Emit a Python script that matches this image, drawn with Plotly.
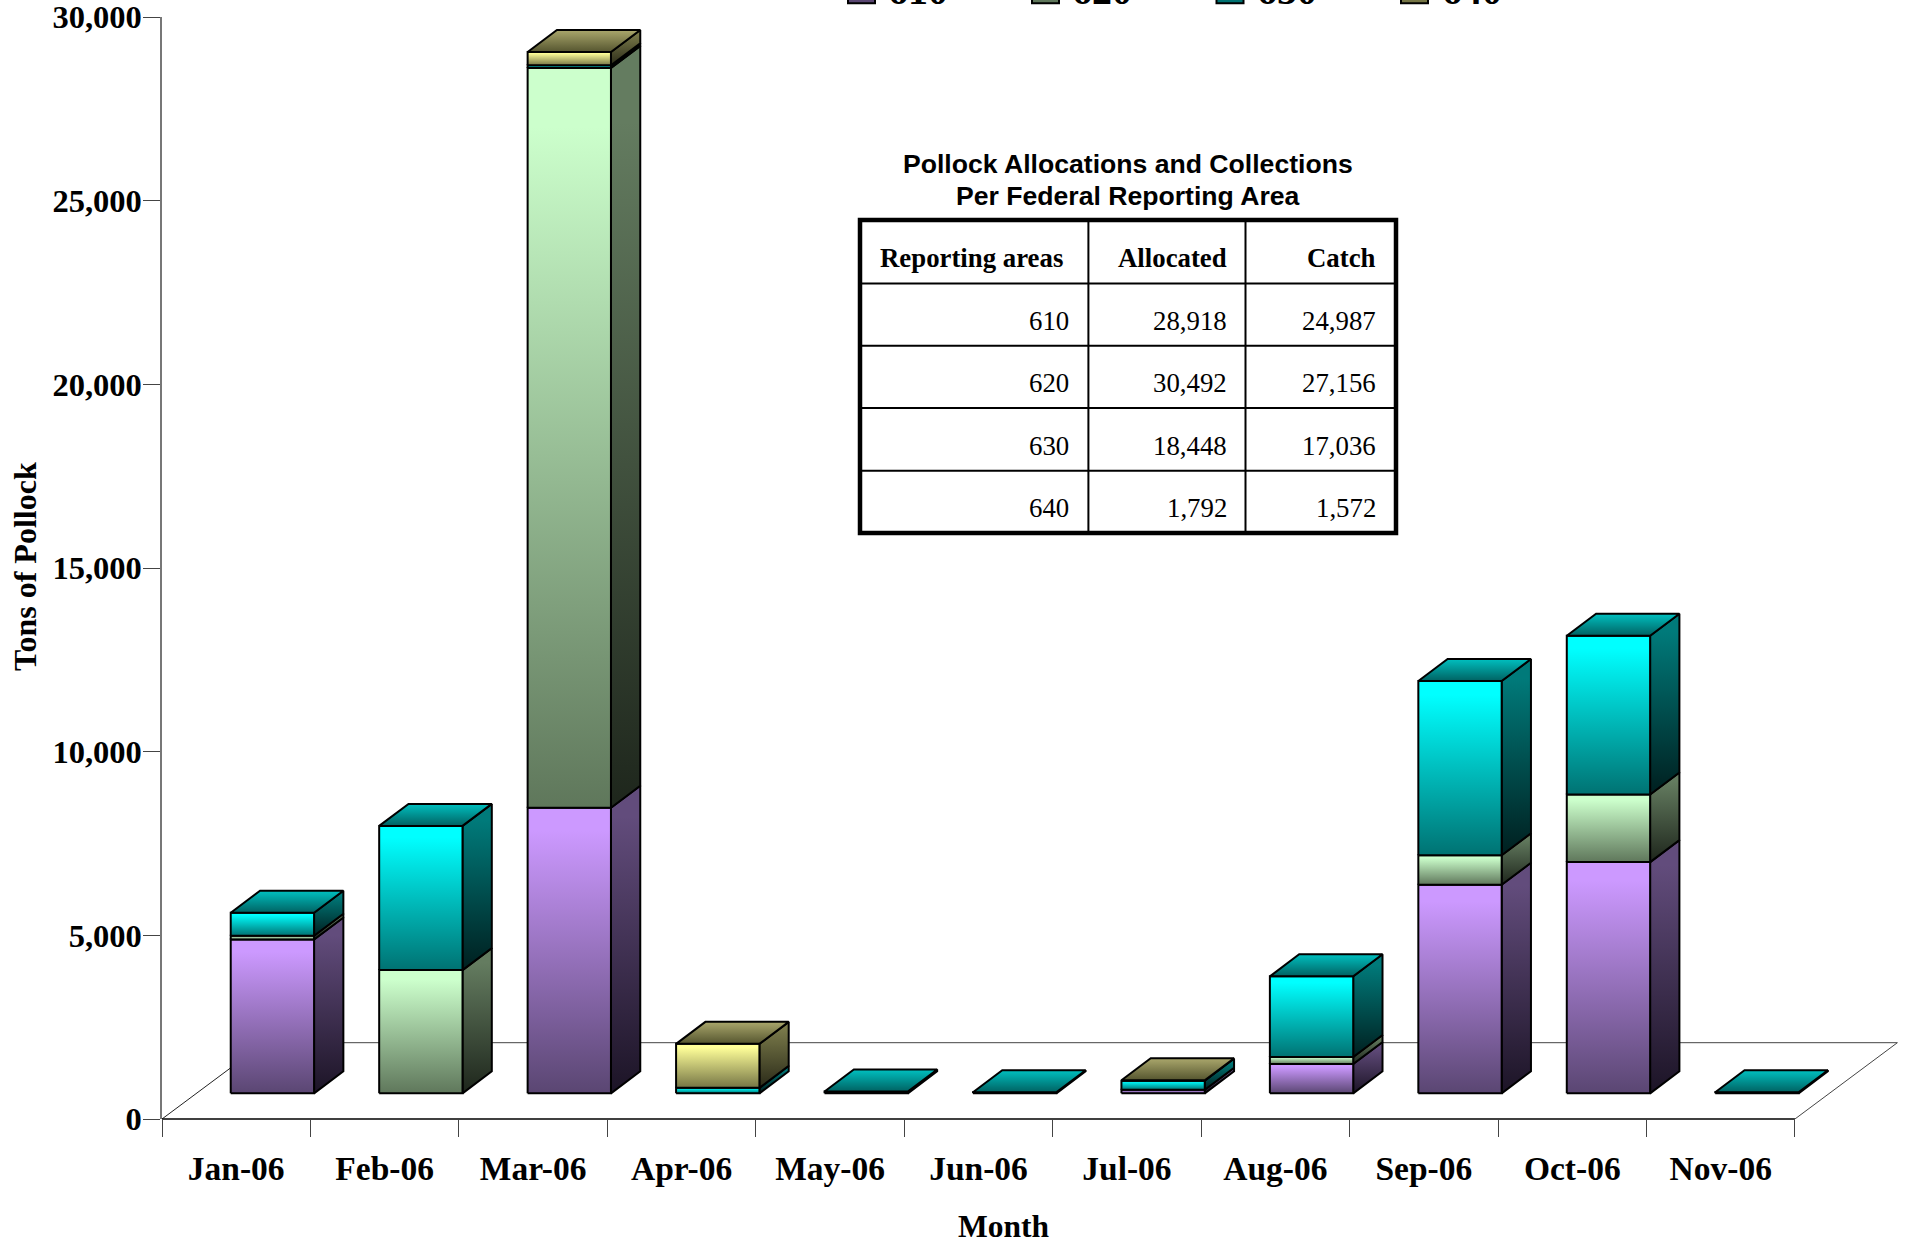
import plotly.graph_objects as go

months = ["Jan-06","Feb-06","Mar-06","Apr-06","May-06","Jun-06","Jul-06","Aug-06","Sep-06","Oct-06","Nov-06"]
area_610 = [4190, 0, 7776, 0, 0, 0, 100, 800, 5680, 6296, 0]
area_620 = [100, 3356, 20140, 0, 0, 0, 0, 190, 803, 1840, 0]
area_630 = [626, 3925, 70, 150, 50, 30, 245, 2196, 4744, 4322, 30]
area_640 = [0, 0, 362, 1198, 0, 0, 10, 0, 0, 0, 0]
y_ticks = [0, 5000, 10000, 15000, 20000, 25000, 30000]
table_header = ["Reporting areas", "Allocated", "Catch"]
table_area = ["610", "620", "630", "640"]
table_allocated = ["28,918", "30,492", "18,448", "1,792"]
table_catch = ["24,987", "27,156", "17,036", "1,572"]

series = [("610", area_610), ("620", area_620), ("630", area_630), ("640", area_640)]
FRONT = {"610": ("#cc99ff", "#5a4672"), "620": ("#ccffcc", "#5f775b"),
         "630": ("#00ffff", "#007272"), "640": ("#ffff99", "#757545")}
SIDE = {"610": ("#624c7c", "#1c1426"), "620": ("#647c60", "#1e261c"),
        "630": ("#007a7a", "#001f1f"), "640": ("#7a7a4a", "#2a2a18")}
TOP = {"610": ("#9a78c4", "#4f3e64"), "620": ("#a0c8a0", "#4f644c"),
       "630": ("#00c0c0", "#006262"), "640": ("#aaa76c", "#55552f")}

W, H = 1907, 1243
SLOT_PX = 148.45
L, R_PX, T_PX, B_PX = 162, 1903, 16.8, 1119.3
X_MAX = (R_PX - L) / SLOT_PX
SERIF = "Liberation Serif"
SANS = "Liberation Sans"

# geometry in axis units
FLOOR_DX, FLOOR_DY = 0.69, 2077
BAR_LEFT, BAR_W = 0.463, 0.5613
BAR_DX, BAR_DY = 0.1974, 599
BASE = 698


def px(x):
    return (x - L) / (R_PX - L)


def py(y):
    return (B_PX - y) / (B_PX - T_PX)


def face(xs, ys, cols, name, flat=0.08):
    return go.Scatter(
        x=xs + xs[:1], y=ys + ys[:1], mode="lines", fill="toself", name=name,
        line=dict(color="black", width=2), cliponaxis=False, showlegend=False, hoverinfo="skip",
        fillgradient=dict(type="vertical",
                          colorscale=[[0, cols[1]], [1 - flat, cols[0]], [1, cols[0]]]),
    )


fig = go.Figure()
# floor
fig.add_trace(go.Scatter(x=[0, FLOOR_DX], y=[0, FLOOR_DY], mode="lines", line=dict(color="#222", width=1),
                         cliponaxis=False, showlegend=False, hoverinfo="skip"))
fig.add_trace(go.Scatter(x=[FLOOR_DX, 11 + FLOOR_DX, 11], y=[FLOOR_DY, FLOOR_DY, 0], mode="lines",
                         line=dict(color="#444", width=1), cliponaxis=False, showlegend=False, hoverinfo="skip"))

for i, m in enumerate(months):
    x0 = i + BAR_LEFT
    x1 = x0 + BAR_W
    y = BASE
    last = None
    for name, vals in series:
        v = vals[i]
        if v <= 0:
            continue
        y2 = y + v
        fig.add_trace(face([x1, x1 + BAR_DX, x1 + BAR_DX, x1], [y, y + BAR_DY, y2 + BAR_DY, y2], SIDE[name], name, 0.1))
        fig.add_trace(face([x0, x1, x1, x0], [y, y, y2, y2], FRONT[name], name))
        y = y2
        last = name
    fig.add_trace(face([x0, x1, x1 + BAR_DX, x0 + BAR_DX], [y, y, y + BAR_DY, y + BAR_DY], TOP[last], last, 0.0))

ann = []


def text(t, x, y, size, family=SERIF, weight=400, xanchor="center", yanchor="middle", angle=0, align="center"):
    ann.append(dict(text=t, x=px(x), y=py(y), xref="paper", yref="paper", xanchor=xanchor, yanchor=yanchor,
                    showarrow=False, textangle=angle, align=align,
                    font=dict(family=family, size=size, weight=weight, color="black")))


text("Month", 1003, 1227, 31.5, weight=700)
text("Tons of Pollock", 25, 567, 32, weight=700, angle=-90)
text("Pollock Allocations and Collections", 1128, 164, 26.6, family=SANS, weight=700)
text("Per Federal Reporting Area", 1128, 196, 26.6, family=SANS, weight=700)

col_right = [1065, 1228.5, 1378]
body_right = [1070.5, 1228.5, 1378]
for xr, t in zip(col_right, table_header):
    text(t, xr, 258, 26.8, weight=700, xanchor="right")
row_y = [321, 383, 446, 508]
for k, yc in enumerate(row_y):
    text(table_area[k], body_right[0], yc, 26.8, xanchor="right")
    text(table_allocated[k], body_right[1], yc, 26.8, xanchor="right")
    text(table_catch[k], body_right[2], yc, 26.8, xanchor="right")

shapes = []


def pline(x0, y0, x1, y1, w, color="black"):
    shapes.append(dict(type="line", xref="paper", yref="paper", x0=px(x0), y0=py(y0), x1=px(x1), y1=py(y1),
                       line=dict(color=color, width=w)))


for yl in [283.4, 345.6, 408, 470.7]:
    pline(860, yl, 1396, yl, 2)
for xl in [1088.4, 1245.5]:
    pline(xl, 220, xl, 533, 2)
shapes.append(dict(type="rect", xref="paper", yref="paper", x0=px(860), y0=py(220), x1=px(1396), y1=py(533),
                   line=dict(color="black", width=4.5)))

# x axis line: the plot area runs past the last slot to hold the floor
pline(L, B_PX, L + 11 * SLOT_PX, B_PX, 1.5)

# legend (cut by the top of the page in the reference)
swatch_x = [848, 1032, 1216.5, 1401]
label_x = [886, 1070, 1255, 1439.5]
for k, (name, _) in enumerate(series):
    shapes.append(dict(type="rect", xref="paper", yref="paper", x0=px(swatch_x[k]), y0=py(-10),
                       x1=px(swatch_x[k] + 27), y1=py(3), fillcolor=FRONT[name][1],
                       line=dict(color="black", width=2)))
    text(name, label_x[k], 15, 40, weight=700, xanchor="left", yanchor="bottom")

x_tick_font = dict(family=SERIF, size=33.5, weight=700, color="black")
y_tick_font = dict(family=SERIF, size=32.5, weight=700, color="black")
fig.update_layout(
    width=W, height=H, paper_bgcolor="white", plot_bgcolor="white", showlegend=False,
    margin=dict(l=L, r=W - R_PX, t=T_PX, b=H - B_PX, pad=0, autoexpand=False),
    xaxis=dict(range=[0, X_MAX], tickvals=[i + 0.5 for i in range(11)], ticktext=months, ticks="outside", ticklen=20,
               tickcolor="rgba(0,0,0,0)", tickfont=x_tick_font, automargin=False,
               minor=dict(tickvals=list(range(12)), ticks="outside", ticklen=17, tickcolor="#444", tickwidth=1,
                          showgrid=False),
               showline=False, showgrid=False, zeroline=False),
    yaxis=dict(range=[0, 30000], tickvals=y_ticks, tickformat=",", ticks="outside", ticklen=17, tickcolor="#444",
               tickwidth=1, showline=True, linecolor="#777", linewidth=1.5, showgrid=False, zeroline=False,
               tickfont=y_tick_font, ticklabeloverflow="allow", ticklabelstandoff=-5, automargin=False),
    annotations=ann, shapes=shapes,
)

fig.write_html("out.html", config=dict(displayModeBar=False),
               post_script="document.body.style.margin='0';document.documentElement.style.overflow='hidden';")
